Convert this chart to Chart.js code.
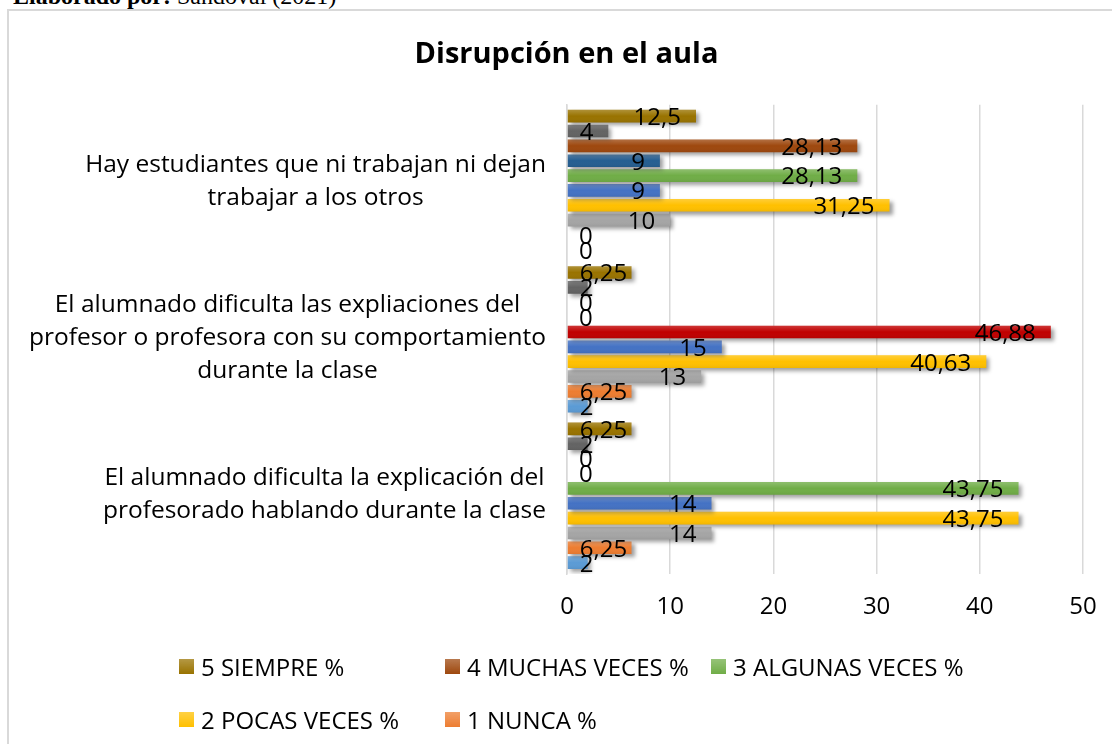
<!DOCTYPE html>
<html>
<head>
<meta charset="utf-8">
<script src="https://cdn.jsdelivr.net/npm/chart.js@4.4.1/dist/chart.umd.min.js"></script>
<style>
    html, body { margin: 0; padding: 0; background: #fff; }
    body { width: 1112px; height: 744px; position: relative; overflow: hidden; font-family: "Open Sans", sans-serif; }
    #source { position: absolute; left: 13px; top: -16px; font: 24px/24px "Liberation Serif", serif; color: #000; white-space: nowrap; }
    #frame { position: absolute; left: 7px; top: 9px; width: 1200px; height: 800px; border: 2px solid #D9D9D9; }
    #chartBox { position: absolute; left: 0; top: 0; }
    #legend { position: absolute; left: 179px; top: 640px; display: grid; grid-template-columns: 266px 266px 266px; grid-auto-rows: 53px; }
    .item { display: flex; align-items: center; font-size: 24px; color: #000; white-space: nowrap; }
    .box { width: 15px; height: 15px; margin-right: 7px; }
</style>
</head>
<body>
<div id="source"><b>Elaborado por:</b> Sandoval (2021)</div>
<div id="frame"></div>
<canvas id="chartBox" width="1112" height="744"></canvas>
<div id="legend"></div>
<script>
const categories = [
    ['Hay estudiantes que ni trabajan ni dejan', 'trabajar a los otros'],
    ['El alumnado dificulta las expliaciones del', 'profesor o profesora con su comportamiento', 'durante la clase'],
    ['El alumnado dificulta la explicación del', 'profesorado hablando durante la clase']
];
const ticksX = [0, 10, 20, 30, 40, 50];

const siemprePct = [12.5, 6.25, 6.25];
const siempreN = [4, 2, 2];
const muchasPct = [28.13, 0, 0];
const muchasN = [9, 0, 0];
const algunasPct = [28.13, 46.88, 43.75];
const algunasN = [9, 15, 14];
const pocasPct = [31.25, 40.63, 43.75];
const pocasN = [10, 13, 14];
const nuncaPct = [0, 6.25, 6.25];
const nuncaN = [0, 2, 2];

// second category's "algunas veces" bar is highlighted in red
const algunasColors = ['#70AD47', '#C00000', '#70AD47'];

const series = [
    { label: '5 SIEMPRE %', data: siemprePct, color: '#997300' },
    { label: '5 SIEMPRE', data: siempreN, color: '#636363' },
    { label: '4 MUCHAS VECES %', data: muchasPct, color: '#9E480E' },
    { label: '4 MUCHAS VECES', data: muchasN, color: '#255E91' },
    { label: '3 ALGUNAS VECES %', data: algunasPct, color: algunasColors },
    { label: '3 ALGUNAS VECES', data: algunasN, color: '#4472C4' },
    { label: '2 POCAS VECES %', data: pocasPct, color: '#FFC000' },
    { label: '2 POCAS VECES', data: pocasN, color: '#A5A5A5' },
    { label: '1 NUNCA %', data: nuncaPct, color: '#ED7D31' },
    { label: '1 NUNCA', data: nuncaN, color: '#5B9BD5' }
];

const fontFamily = '"Open Sans", sans-serif';

// drop shadow under the bars, then light gradient + value labels on top
const barEffects = {
    id: 'barEffects',
    beforeDatasetsDraw(chart) {
        const c = chart.ctx;
        c.save();
        c.shadowColor = 'rgba(0,0,0,0.38)';
        c.shadowBlur = 4;
        c.shadowOffsetX = 3;
        c.shadowOffsetY = 3;
    },
    afterDatasetsDraw(chart) {
        const c = chart.ctx;
        c.restore();
        c.save();
        chart.data.datasets.forEach(function (ds, di) {
            chart.getDatasetMeta(di).data.forEach(function (bar) {
                const p = bar.getProps(['x', 'y', 'base', 'height'], true);
                if (p.x - p.base < 1) return;
                const top = p.y - p.height / 2;
                const g = c.createLinearGradient(0, top, 0, top + p.height);
                g.addColorStop(0, 'rgba(255,255,255,0.22)');
                g.addColorStop(0.5, 'rgba(255,255,255,0)');
                g.addColorStop(1, 'rgba(0,0,0,0.06)');
                c.fillStyle = g;
                c.fillRect(p.base, top, p.x - p.base, p.height);
            });
        });
        c.font = '24px ' + fontFamily;
        c.fillStyle = '#000';
        c.textAlign = 'right';
        c.textBaseline = 'middle';
        chart.data.datasets.forEach(function (ds, di) {
            chart.getDatasetMeta(di).data.forEach(function (bar, i) {
                const p = bar.getProps(['x', 'y', 'base'], true);
                const txt = String(ds.data[i]).replace('.', ',');
                const w = c.measureText(txt).width;
                const right = Math.max(p.x - 15, p.base + 12 + w);
                c.fillText(txt, right, p.y + 2);
            });
        });
        c.restore();
    }
};

// category labels: lines centred inside a block that sits against the axis
const categoryLabels = {
    id: 'categoryLabels',
    afterDraw(chart) {
        const c = chart.ctx;
        const yScale = chart.scales.y;
        c.save();
        c.font = '24.5px ' + fontFamily;
        c.fillStyle = '#000';
        c.textAlign = 'center';
        c.textBaseline = 'middle';
        chart.data.labels.forEach(function (lines, i) {
            const cy = yScale.getPixelForValue(i);
            const w = Math.max.apply(null, lines.map(function (l) { return c.measureText(l).width; }));
            const cx = chart.chartArea.left - 21 - w / 2;
            lines.forEach(function (l, j) {
                c.fillText(l, cx, cy - 1 + (j - (lines.length - 1) / 2) * 33);
            });
        });
        c.restore();
    }
};

const ctx = document.getElementById('chartBox');
const chart = new Chart(ctx, {
    type: 'bar',
    data: {
        labels: categories,
        datasets: series.map(function (s) {
            return {
                label: s.label,
                data: s.data,
                backgroundColor: s.color,
                borderWidth: 0,
                categoryPercentage: 0.95,
                barPercentage: 0.85
            };
        })
    },
    options: {
        responsive: false,
        animation: false,
        indexAxis: 'y',
        layout: { padding: { left: 50, right: 29, top: 30, bottom: 110 } },
        plugins: {
            legend: { display: false },
            tooltip: { enabled: false },
            title: {
                display: true,
                text: 'Disrupción en el aula',
                color: '#000',
                font: { family: fontFamily, size: 29, weight: 'bold' },
                padding: { top: 7, bottom: 33 }
            }
        },
        scales: {
            x: {
                min: ticksX[0],
                max: ticksX[ticksX.length - 1],
                afterBuildTicks: function (scale) {
                    scale.ticks = ticksX.map(function (v) { return { value: v }; });
                },
                ticks: { color: '#000', font: { family: fontFamily, size: 24 }, padding: 19 },
                grid: { color: '#D9D9D9', lineWidth: 1.5, drawTicks: false },
                border: { display: false },
                afterFit: function (scale) {
                    scale.height = 60;
                    scale.paddingLeft = 0;
                    scale.paddingRight = 0;
                }
            },
            y: {
                ticks: { display: false },
                grid: { display: false },
                border: { color: '#D9D9D9', width: 1.5 },
                afterFit: function (scale) { scale.width = 517; }
            }
        }
    },
    plugins: [barEffects, categoryLabels]
});

// html legend with fixed columns, only the percentage series
const legendEl = document.getElementById('legend');
series.filter(function (s) { return s.label.endsWith('%'); }).forEach(function (s) {
    const base = Array.isArray(s.color) ? s.color[0] : s.color;
    const item = document.createElement('div');
    item.className = 'item';
    const box = document.createElement('span');
    box.className = 'box';
    box.style.background = 'linear-gradient(to bottom, ' + base + 'BB, ' + base + ')';
    item.appendChild(box);
    item.appendChild(document.createTextNode(s.label));
    legendEl.appendChild(item);
});
</script>
</body>
</html>
